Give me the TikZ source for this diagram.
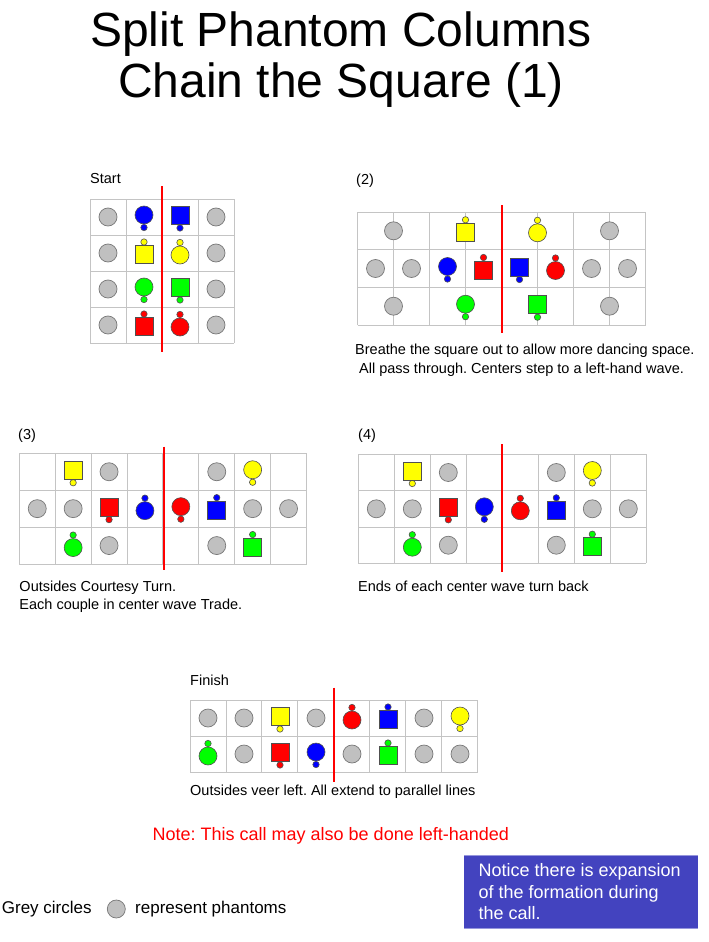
\documentclass[tikz,border=0pt]{standalone}
\usepackage{fontspec}
\setmainfont{Liberation Sans}
\frenchspacing
\definecolor{outl}{RGB}{80,80,80}
\definecolor{gridc}{RGB}{196,196,196}
\definecolor{phfill}{RGB}{192,192,192}
\definecolor{phline}{RGB}{120,120,120}
\definecolor{dblue}{RGB}{0,0,255}
\definecolor{dred}{RGB}{255,0,0}
\definecolor{dgreen}{RGB}{0,255,0}
\definecolor{dyellow}{RGB}{255,255,0}
\definecolor{boxblue}{RGB}{67,67,191}
\definecolor{boxedge}{RGB}{150,150,220}
\newcommand\sqgrid[6]{%
  \foreach \i in {0,...,#3} \draw[gridline] ({#1+\i*#5},#2) -- ({#1+\i*#5},{#2+#4*#6});
  \foreach \j in {0,...,#4} \draw[gridline] (#1,{#2+\j*#6}) -- ({#1+#3*#5},{#2+\j*#6});
}
\tikzset{
  gridline/.style={draw=gridc,line width=0.9pt},
  divider/.style={draw=dred,line width=2pt},
  small/.style={font=\fontsize{14.5}{17}\selectfont\frenchspacing,inner sep=0pt},
  ph/.pic={\filldraw[fill=phfill,draw=phline,line width=0.7pt] (0,0) circle[radius=9pt];},
  pics/bc/.style 2 args={code={
    \filldraw[fill=#1,draw=outl,line width=0.6pt] (0,{#2*10.5}) circle[radius=3.2pt];
    \filldraw[fill=#1,draw=outl,line width=0.6pt] (0,{-#2*2}) circle[radius=9pt];}},
  pics/gs/.style 2 args={code={
    \filldraw[fill=#1,draw=outl,line width=0.6pt] (0,{#2*11}) circle[radius=3.2pt];
    \filldraw[fill=#1,draw=outl,line width=0.6pt] (-9,{-#2*1.5-9}) rectangle (9,{-#2*1.5+9});}},
}
\begin{document}
\begin{tikzpicture}[x=1pt,y=-1pt]
\useasboundingbox (0,0) rectangle (709,942);
\fill[white] (0,0) rectangle (709,942);
% Title
\node[anchor=base,inner sep=0pt,font=\fontsize{48}{56}\selectfont] (t1) at (341,47) {Split Phantom Columns};
\node[anchor=base,inner sep=0pt,font=\fontsize{48}{56}\selectfont] (t2) at (341,97) {Chain the Square (1)};

% ---------- Start ----------
\node[small,anchor=base west] (lstart) at (90,183.3) {Start};
\sqgrid{90}{199}{4}{4}{36}{36}
\foreach \y in {217,253,289,325} {\pic at (108,\y) {ph}; \pic at (216,\y) {ph};}
\pic at (144,217) {bc={dblue}{1}};
\pic at (180,217) {gs={dblue}{1}};
\pic at (144,253) {gs={dyellow}{-1}};
\pic at (180,253) {bc={dyellow}{-1}};
\pic at (144,289) {bc={dgreen}{1}};
\pic at (180,289) {gs={dgreen}{1}};
\pic at (144,325) {gs={dred}{-1}};
\pic at (180,325) {bc={dred}{-1}};
\coordinate (s1) at (162.3,186); \coordinate (s2) at (162.3,352);
\draw[divider] (s1) -- (s2);

% ---------- (2) ----------
\node[small,anchor=base west] (l2) at (356,184) {(2)};
\sqgrid{357.5}{212}{8}{3}{36}{37.67}
\pic at (393.5,230.8) {ph};
\pic at (465.5,230.8) {gs={dyellow}{-1}};
\pic at (537.5,230.8) {bc={dyellow}{-1}};
\pic at (609.5,230.8) {ph};
\pic at (375.5,268.5) {ph};
\pic at (411.5,268.5) {ph};
\pic at (447.5,268.5) {bc={dblue}{1}};
\pic at (483.5,268.5) {gs={dred}{-1}};
\pic at (519.5,268.5) {gs={dblue}{1}};
\pic at (555.5,268.5) {bc={dred}{-1}};
\pic at (591.5,268.5) {ph};
\pic at (627.5,268.5) {ph};
\pic at (393.5,306.2) {ph};
\pic at (465.5,306.2) {bc={dgreen}{1}};
\pic at (537.5,306.2) {gs={dgreen}{1}};
\pic at (609.5,306.2) {ph};
\coordinate (a1) at (502,205); \coordinate (a2) at (502,332.7);
\draw[divider] (a1) -- (a2);
\node[small,anchor=base west] (c2a) at (355,354) {Breathe the square out to allow more dancing space.};
\node[small,anchor=base west] (c2b) at (359,373) {All pass through. Centers step to a left-hand wave.};

% ---------- (3) ----------
\node[small,anchor=base west] (l3) at (18,439) {(3)};
\sqgrid{19.3}{453.3}{8}{3}{35.9}{36.9}
\pic at (73.15,471.75) {gs={dyellow}{1}};
\pic at (109.05,471.75) {ph};
\pic at (216.75,471.75) {ph};
\pic at (252.65,471.75) {bc={dyellow}{1}};
\pic at (37.25,508.65) {ph};
\pic at (73.15,508.65) {ph};
\pic at (109.05,508.65) {gs={dred}{1}};
\pic at (144.95,508.65) {bc={dblue}{-1}};
\pic at (180.85,508.65) {bc={dred}{1}};
\pic at (216.75,508.65) {gs={dblue}{-1}};
\pic at (252.65,508.65) {ph};
\pic at (288.55,508.65) {ph};
\pic at (73.15,545.55) {bc={dgreen}{-1}};
\pic at (109.05,545.55) {ph};
\pic at (216.75,545.55) {ph};
\pic at (252.65,545.55) {gs={dgreen}{-1}};
\coordinate (b1) at (163.5,446.7); \coordinate (b2) at (163.5,570);
\draw[divider] (b1) -- (b2);
\node[small,anchor=base west] (c3a) at (19.3,591) {Outsides Courtesy Turn.};
\node[small,anchor=base west] (c3b) at (19.3,609) {Each couple in center wave Trade.};

% ---------- (4) ----------
\node[small,anchor=base west] (l4) at (358,439) {(4)};
\sqgrid{358.3}{454.3}{8}{3}{36}{36.33}
\pic at (412.3,472.5) {gs={dyellow}{1}};
\pic at (448.3,472.5) {ph};
\pic at (556.3,472.5) {ph};
\pic at (592.3,472.5) {bc={dyellow}{1}};
\pic at (376.3,508.8) {ph};
\pic at (412.3,508.8) {ph};
\pic at (448.3,508.8) {gs={dred}{1}};
\pic at (484.3,508.8) {bc={dblue}{1}};
\pic at (520.3,508.8) {bc={dred}{-1}};
\pic at (556.3,508.8) {gs={dblue}{-1}};
\pic at (592.3,508.8) {ph};
\pic at (628.3,508.8) {ph};
\pic at (412.3,545.2) {bc={dgreen}{-1}};
\pic at (448.3,545.2) {ph};
\pic at (556.3,545.2) {ph};
\pic at (592.3,545.2) {gs={dgreen}{-1}};
\coordinate (d1) at (502,444.3); \coordinate (d2) at (502,571.7);
\draw[divider] (d1) -- (d2);
\node[small,anchor=base west] (c4a) at (358,591) {Ends of each center wave turn back};

% ---------- Finish ----------
\node[small,anchor=base west] (lfin) at (190,685) {Finish};
\sqgrid{190}{700}{8}{2}{35.96}{36.15}
\pic at (208,718) {ph};
\pic at (244,718) {ph};
\pic at (280,718) {gs={dyellow}{1}};
\pic at (316,718) {ph};
\pic at (352,718) {bc={dred}{-1}};
\pic at (388,718) {gs={dblue}{-1}};
\pic at (424,718) {ph};
\pic at (460,718) {bc={dyellow}{1}};
\pic at (208,754) {bc={dgreen}{-1}};
\pic at (244,754) {ph};
\pic at (280,754) {gs={dred}{1}};
\pic at (316,754) {bc={dblue}{1}};
\pic at (352,754) {ph};
\pic at (388,754) {gs={dgreen}{-1}};
\pic at (424,754) {ph};
\pic at (460,754) {ph};
\coordinate (f1) at (334,687.7); \coordinate (f2) at (334,781.7);
\draw[divider] (f1) -- (f2);
\node[small,anchor=base west] (cfin) at (190,795.7) {Outsides veer left. All extend to parallel lines};

% ---------- bottom ----------
\node[anchor=base west,inner sep=0pt,text=dred,font=\fontsize{18}{21}\selectfont\frenchspacing] (note) at (152.5,840.7) {Note: This call may also be done left-handed};
\fill[boxblue] (464,855) rectangle (697.7,928.3);
\draw[draw=boxedge,line width=0.8pt] (464,855) -- (697.7,855) (464,928.3) -- (697.7,928.3);
\node[anchor=base west,inner sep=0pt,text=white,font=\fontsize{18}{21}\selectfont] (n1) at (478.3,876.7) {Notice there is expansion};
\node[anchor=base west,inner sep=0pt,text=white,font=\fontsize{18}{21}\selectfont] (n2) at (478.3,898) {of the formation during};
\node[anchor=base west,inner sep=0pt,text=white,font=\fontsize{18}{21}\selectfont] (n3) at (478.3,919.3) {the call.};
\node[anchor=base west,inner sep=0pt,font=\fontsize{17}{20}\selectfont] (g1) at (1.7,913.3) {Grey circles};
\pic at (116.3,909) {ph};
\node[anchor=base west,inner sep=0pt,font=\fontsize{17}{20}\selectfont] (g2) at (135,913.3) {represent phantoms};
\end{tikzpicture}
\end{document}
